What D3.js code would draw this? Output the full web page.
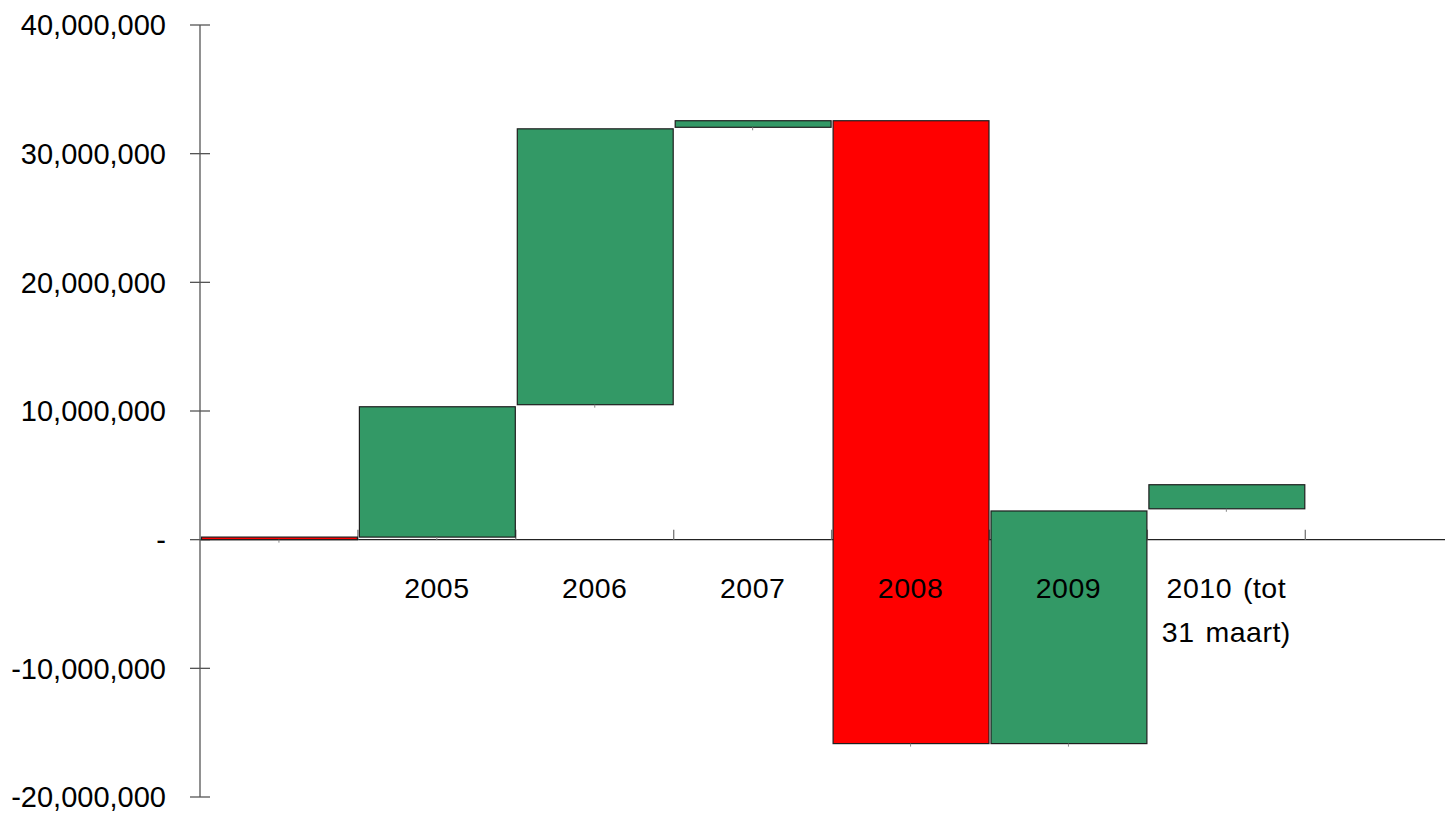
<!DOCTYPE html>
<html>
<head>
<meta charset="utf-8">
<script src="https://cdn.jsdelivr.net/npm/d3@7"></script>
<style>
  html, body { margin: 0; padding: 0; background: #fff; }
  svg { display: block; }
  text { font-family: "Liberation Sans", Arial, sans-serif; fill: #000; }
</style>
</head>
<body>
<svg id="chart" width="1445" height="815"></svg>
<script>
// ---- data ----
const categories = ["", "2005", "2006", "2007", "2008", "2009", "2010 (tot\n31 maart)", " "];
const barStart = [0, 200000, 10490000, 32050000, 32560000, -15850000, 2400000];
const barEnd   = [200000, 10330000, 31930000, 32560000, -15850000, 2230000, 4270000];
const barKind  = ["red", "green", "green", "green", "red", "green", "green"];
const yTicks   = [-20000000, -10000000, 0, 10000000, 20000000, 30000000, 40000000];

// ---- layout ----
const W = 1445, H = 815;
const svg = d3.select("#chart");
const x0 = 200, bandW = 157.9;
const x = d3.scaleBand().domain(categories).range([x0, x0 + bandW * categories.length]).paddingInner(0).paddingOuter(0);
const y = d3.scaleLinear().domain([-20000000, 40000000]).range([797, 25]);
const colors = { red: "#ff0000", green: "#339966" };
const fmt = v => v === 0 ? "-" : d3.format(",")(v).replace("\u2212", "-");

const zeroY = y(0);

// x axis line (behind bars)
const xAxis = svg.append("g");
xAxis.append("line").attr("x1", x0).attr("x2", W).attr("y1", zeroY).attr("y2", zeroY)
  .attr("stroke", "#222").attr("stroke-width", 1.3);
const bounds = categories.slice(1, barStart.length + 1).map(c => x(c));
xAxis.selectAll("line.tick").data(bounds).enter().append("line")
  .attr("class", "tick")
  .attr("x1", d => d).attr("x2", d => d).attr("y1", zeroY - 10).attr("y2", zeroY)
  .attr("stroke", "#777").attr("stroke-width", 1.3);

// y axis
const yAxis = svg.append("g");
yAxis.append("line").attr("x1", x0).attr("x2", x0).attr("y1", y(40000000)).attr("y2", y(-20000000))
  .attr("stroke", "#555").attr("stroke-width", 1.3);
yAxis.selectAll("line.tick").data(yTicks).enter().append("line")
  .attr("class", "tick")
  .attr("x1", x0 - 10).attr("x2", x0 + 10)
  .attr("y1", v => y(v)).attr("y2", v => y(v))
  .attr("stroke", "#555").attr("stroke-width", 1.3);
yAxis.selectAll("text").data(yTicks).enter().append("text")
  .attr("x", 166).attr("y", v => y(v)).attr("dy", "0.36em")
  .attr("text-anchor", "end").attr("font-size", 29)
  .text(fmt);

// bars
const bars = svg.append("g");
const idx = d3.range(barStart.length);
bars.selectAll("rect").data(idx).enter().append("rect")
  .attr("x", i => x(categories[i]) + 1.5)
  .attr("width", bandW - 2)
  .attr("y", i => y(Math.max(barStart[i], barEnd[i])))
  .attr("height", i => Math.max(1.5, Math.abs(y(barStart[i]) - y(barEnd[i]))))
  .attr("fill", i => colors[barKind[i]])
  .attr("stroke", "#1e1e1e").attr("stroke-width", 1.2);

// small marks below bars at band centre
bars.selectAll("line.mark").data(idx).enter().append("line")
  .attr("class", "mark")
  .attr("x1", i => x(categories[i]) + bandW / 2).attr("x2", i => x(categories[i]) + bandW / 2)
  .attr("y1", i => y(Math.min(barStart[i], barEnd[i]))).attr("y2", i => y(Math.min(barStart[i], barEnd[i])) + 3)
  .attr("stroke", "#888").attr("stroke-width", 1);

// category labels (on top)
const labels = svg.append("g").selectAll("text").data(categories).enter().append("text")
  .attr("x", c => x(c) + bandW / 2)
  .attr("y", 598)
  .attr("text-anchor", "middle").attr("font-size", 28.5)
  .attr("letter-spacing", 0.5).attr("word-spacing", 2.5);
labels.each(function(c) {
  const lines = c.split("\n");
  const t = d3.select(this);
  lines.forEach((ln, k) => {
    t.append("tspan").attr("x", x(c) + bandW / 2).attr("dy", k === 0 ? 0 : 44).text(ln);
  });
});
</script>
</body>
</html>
